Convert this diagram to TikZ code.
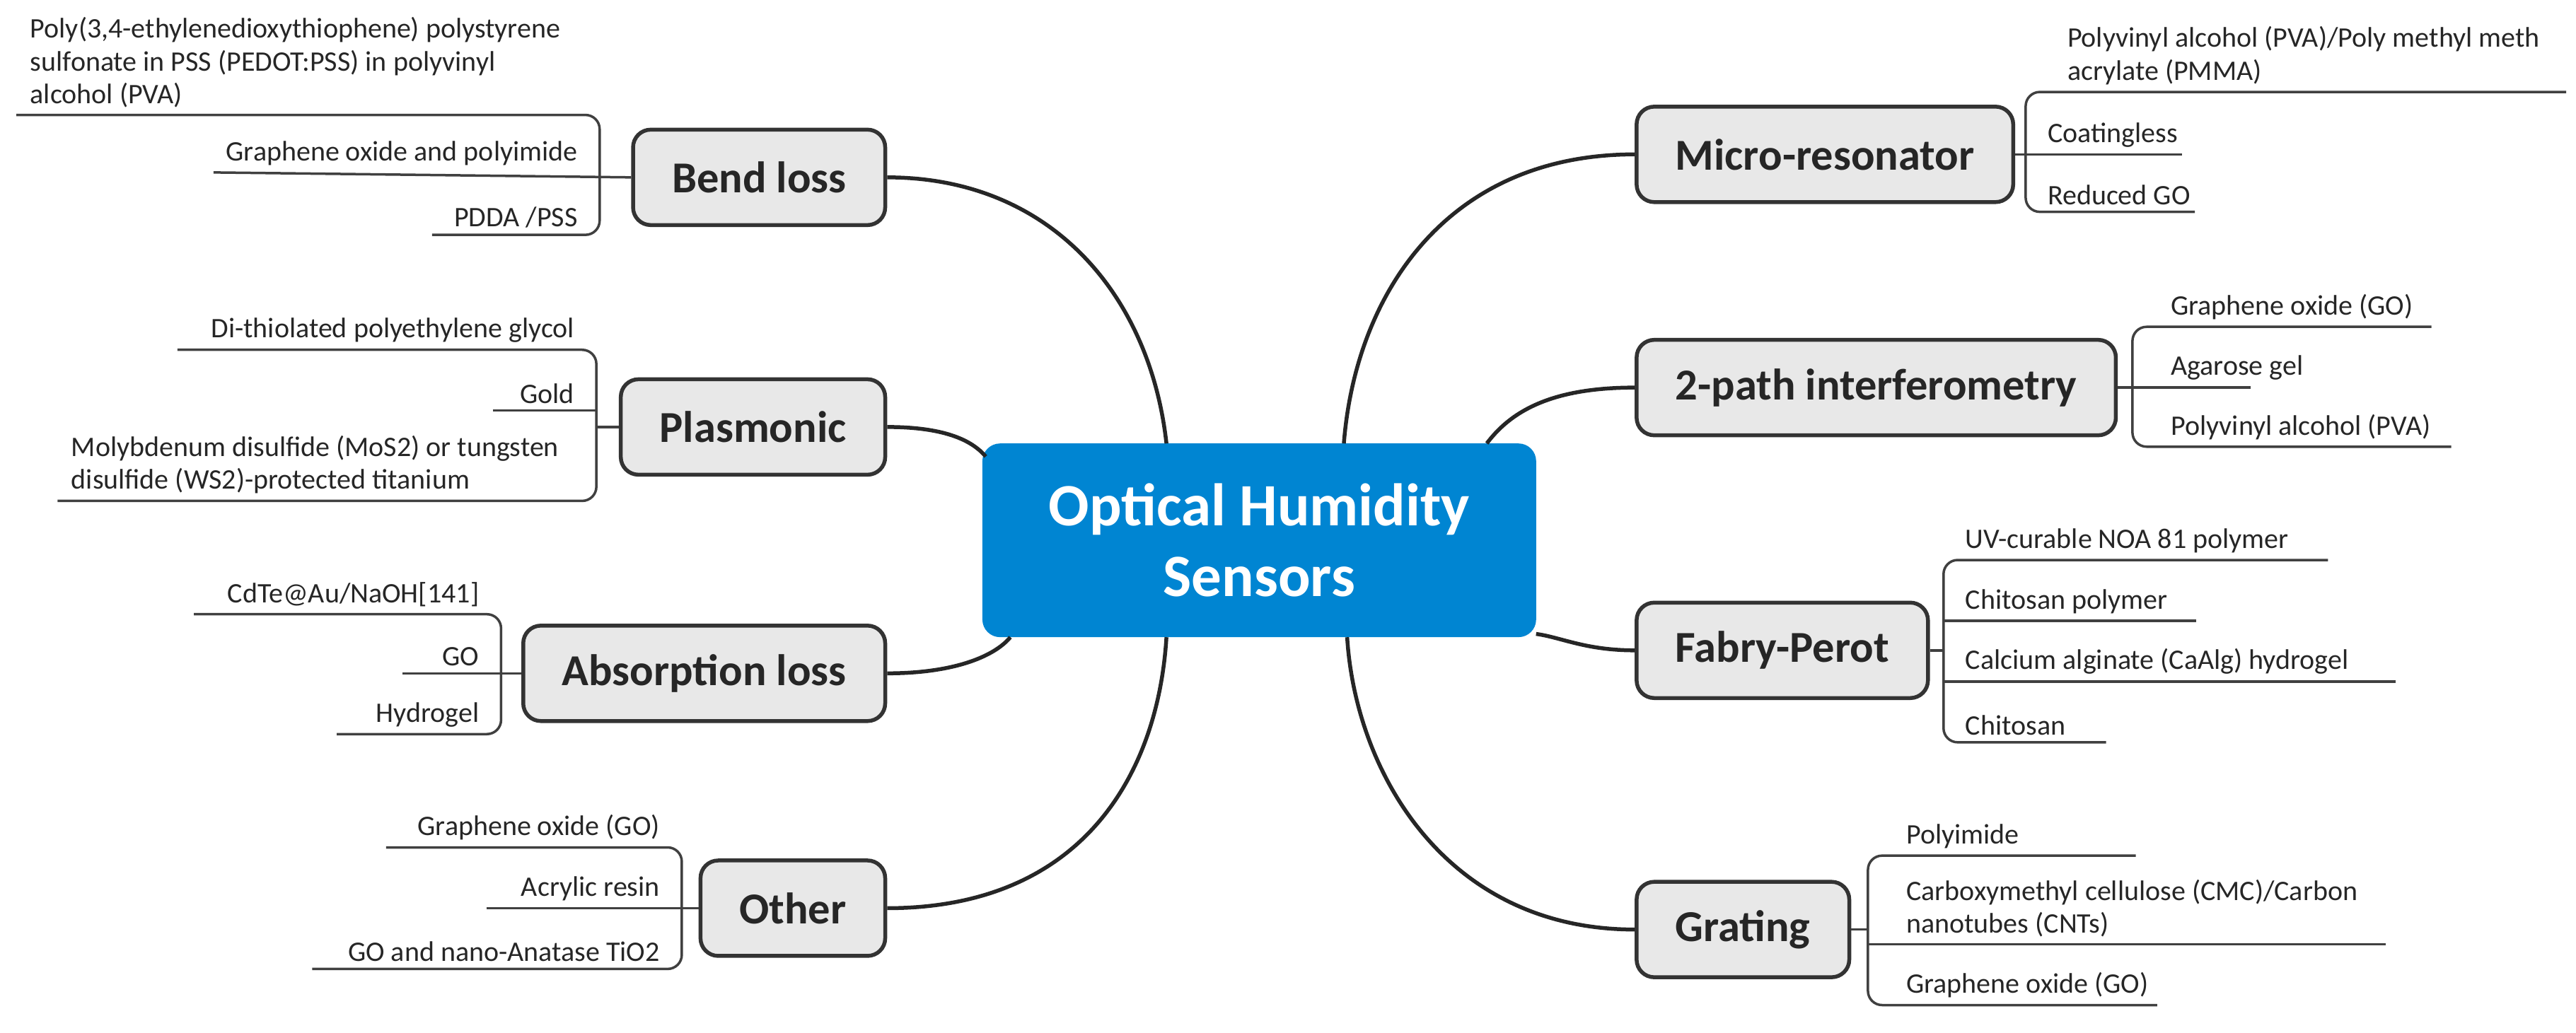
\documentclass[tikz,border=0pt]{standalone}
\usepackage{fontspec}
\setmainfont{Carlito}
\begin{document}
\begin{tikzpicture}[x=0.4646pt,y=-0.4646pt,
 main/.style={draw=black!80,line width=1.1pt,fill=black!9,rounded corners=5pt,font=\bfseries\fontsize{12.5}{14}\selectfont,text=black!85,minimum height=27pt,inner xsep=11pt},
 leaf/.style={draw=black!75,line width=0.7pt,rounded corners=4pt},
 branch/.style={draw=black!85,line width=1.1pt},
 lt/.style={font=\fontsize{8}{9.3}\selectfont,text=black!85,inner sep=0pt},
 ltl/.style={lt,anchor=south east},
 ltr/.style={lt,anchor=south west}]
\useasboundingbox (0,0) rectangle (1568,629);
\definecolor{cblue}{RGB}{0,133,210}
\node[fill=cblue,rounded corners=5pt,minimum width=156.6pt,minimum height=54.8pt,text=white,font=\bfseries\fontsize{17}{20}\selectfont,align=center] (c) at (766.5,329) {Optical Humidity\\Sensors};
% left main nodes
\node[main,anchor=east] (bend) at (540,108) {Bend loss};
\node[main,anchor=east] (plas) at (540,260) {Plasmonic};
\node[main,anchor=east] (abs) at (540,410) {Absorption loss};
\node[main,anchor=east] (oth) at (540,553) {Other};
% right main nodes
\node[main,anchor=west] (micro) at (995,94) {Micro-resonator};
\node[main,anchor=west] (twop) at (995,236) {2-path interferometry};
\node[main,anchor=west] (fp) at (995,396) {Fabry-Perot};
\node[main,anchor=west] (grat) at (995,566) {Grating};
% branches
\coordinate (c1) at (710,270); \coordinate (c2) at (600,278);
\coordinate (c3) at (615,388); \coordinate (c4) at (710,388);
\coordinate (c5) at (818,270); \coordinate (c6) at (905,270);
\coordinate (c7) at (935,386); \coordinate (c8) at (820,388);
\draw[branch] (bend.east) .. controls (640,108) and (700,180) .. (c1);
\draw[branch] (plas.east) .. controls (570,260) and (590,266) .. (c2);
\draw[branch] (abs.east) .. controls (580,410) and (605,400) .. (c3);
\draw[branch] (oth.east) .. controls (660,553) and (705,470) .. (c4);
\draw[branch] (micro.west) .. controls (880,94) and (825,180) .. (c5);
\draw[branch] (twop.west) .. controls (945,236) and (920,250) .. (c6);
\draw[branch] (fp.west) .. controls (965,396) and (950,388) .. (c7);
\draw[branch] (grat.west) .. controls (880,566) and (825,470) .. (c8);
% Bend loss leaves
\draw[leaf] (10,70) -- (365,70) -- (365,143) -- (263,143);
\draw[leaf] (130,105) -- (bend.west);
\node[lt,anchor=south west,align=left] (b1) at (18,66) {Poly(3,4-ethylenedioxythiophene) polystyrene\\sulfonate in PSS (PEDOT:PSS) in polyvinyl\\alcohol (PVA)};
\node[ltl] (b2) at (352,101) {Graphene oxide and polyimide};
\node[ltl] (b3) at (352,139) {PDDA /PSS};
% Plasmonic leaves
\draw[leaf] (108,213) -- (363,213) -- (363,305) -- (35,305);
\draw[leaf] (300,250) -- (363,250);
\draw[leaf] (363,260) -- (plas.west);
\node[ltl] (p1) at (350,209) {Di-thiolated polyethylene glycol};
\node[ltl] (p2) at (350,246) {Gold};
\node[lt,anchor=south west,align=left] (p3) at (43,301) {Molybdenum disulfide (MoS2) or tungsten\\disulfide (WS2)-protected titanium};
% Absorption leaves
\draw[leaf] (118,374) -- (305,374) -- (305,447) -- (205,447);
\draw[leaf] (245,410) -- (abs.west);
\node[ltl] (a1) at (292,370) {CdTe@Au/NaOH[141]};
\node[ltl] (a2) at (292,406) {GO};
\node[ltl] (a3) at (292,443) {Hydrogel};
% Other leaves
\draw[leaf] (235,516) -- (415,516) -- (415,590) -- (190,590);
\draw[leaf] (296,553) -- (oth.west);
\node[ltl] (o1) at (402,512) {Graphene oxide (GO)};
\node[ltl] (o2) at (402,549) {Acrylic resin};
\node[ltl] (o3) at (402,586) {GO and nano-Anatase TiO2};
% Micro-resonator leaves
\draw[leaf] (1562,56) -- (1233,56) -- (1233,129) -- (1336,129);
\draw[leaf] (micro.east) -- (1328,94);
\node[lt,anchor=south west,align=left] (m1) at (1258,52) {Polyvinyl alcohol (PVA)/Poly methyl meth\\acrylate (PMMA)};
\node[ltr] (m2) at (1246,90) {Coatingless};
\node[ltr] (m3) at (1246,125) {Reduced GO};
% 2-path leaves
\draw[leaf] (1480,199) -- (1298,199) -- (1298,272) -- (1492,272);
\draw[leaf] (twop.east) -- (1370,236);
\node[ltr] (t1) at (1321,195) {Graphene oxide (GO)};
\node[ltr] (t2) at (1321,232) {Agarose gel};
\node[ltr] (t3) at (1321,268) {Polyvinyl alcohol (PVA)};
% Fabry-Perot leaves
\draw[leaf] (1417,341) -- (1183,341) -- (1183,452) -- (1282,452);
\draw[leaf] (1183,378) -- (1337,378);
\draw[leaf] (1183,415) -- (1458,415);
\draw[leaf] (fp.east) -- (1183,396);
\node[ltr] (f1) at (1196,337) {UV-curable NOA 81 polymer};
\node[ltr] (f2) at (1196,374) {Chitosan polymer};
\node[ltr] (f3) at (1196,411) {Calcium alginate (CaAlg) hydrogel};
\node[ltr] (f4) at (1196,448) {Chitosan};
% Grating leaves
\draw[leaf] (1300,521) -- (1137,521) -- (1137,612) -- (1313,612);
\draw[leaf] (1137,575) -- (1452,575);
\draw[leaf] (grat.east) -- (1137,566);
\node[ltr] (g1) at (1160,517) {Polyimide};
\node[lt,anchor=south west,align=left] (g2) at (1160,571) {Carboxymethyl cellulose (CMC)/Carbon\\nanotubes (CNTs)};
\node[ltr] (g3) at (1160,608) {Graphene oxide (GO)};
\end{tikzpicture}
\end{document}
